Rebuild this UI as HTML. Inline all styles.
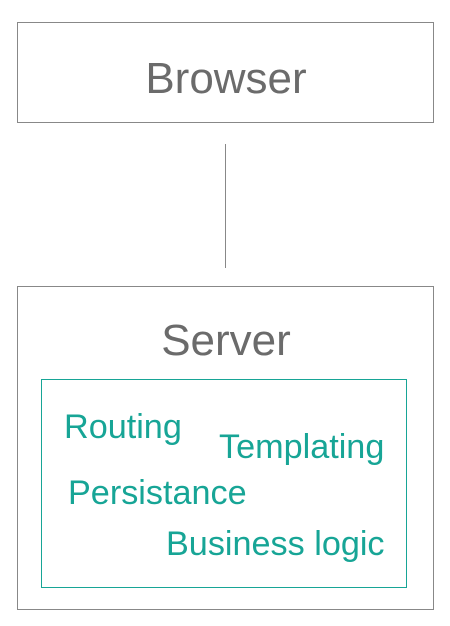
<!DOCTYPE html>
<html><head><style>
html,body{margin:0;padding:0;background:#fff;}
body{width:450px;height:626px;position:relative;font-family:"Liberation Sans",sans-serif;}
.b{position:absolute;box-sizing:border-box;}
.t{position:absolute;white-space:nowrap;}
.g{color:#17a596;font-size:34.2px;}
</style></head><body>
<div class="b" style="left:17px;top:22px;width:417px;height:101px;border:1px solid #888;"></div>
<div class="t" style="left:0;width:452px;text-align:center;top:54px;font-size:44px;color:#6b6b6b;">Browser</div>
<div class="b" style="left:225px;top:144px;width:1px;height:124px;background:#888;"></div>
<div class="b" style="left:17px;top:286px;width:417px;height:324px;border:1px solid #888;"></div>
<div class="t" style="left:0;width:452px;text-align:center;top:316px;font-size:44px;color:#6b6b6b;">Server</div>
<div class="b" style="left:41px;top:379px;width:366px;height:209px;border:1px solid #17a596;"></div>
<div class="t g" style="left:64px;top:408px;">Routing</div>
<div class="t g" style="left:219px;top:428px;">Templating</div>
<div class="t g" style="left:68px;top:474px;">Persistance</div>
<div class="t g" style="left:166px;top:525px;">Business logic</div>
</body></html>
